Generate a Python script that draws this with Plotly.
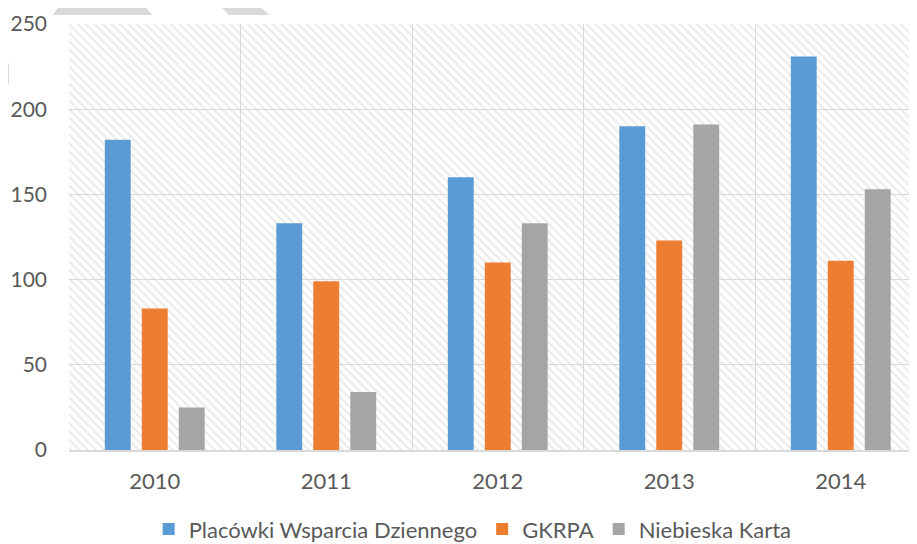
import plotly.graph_objects as go

# data
years = ["2010", "2011", "2012", "2013", "2014"]
placowki = [182, 133, 160, 190, 231]
gkrpa = [83, 99, 110, 123, 111]
niebieska = [25, 34, 133, 191, 153]

series_names = ["Placówki Wsparcia Dziennego", "GKRPA", "Niebieska Karta"]
series_colors = ["#5B9BD5", "#ED7D31", "#A5A5A5"]
y_max = 250
y_ticks = [0, 50, 100, 150, 200, 250]

FONT = "Lato"
TXT = "#595959"
GRID = "#d9d9d9"

# the page body has an 8px margin, so the figure is drawn 8px in from the corner
OFF = 8
W, H = 917 - OFF, 544 - OFF
L, R, T, B = 69 - OFF, 0, 24 - OFF, 94


def px(x, y):
    # screen pixel -> paper coords
    x, y = x - OFF, y - OFF
    return (x - L) / (W - L - R), (H - B - y) / (H - T - B)


def path(points):
    out = []
    for cmd, pts in points:
        coords = " ".join("%.4f,%.4f" % px(*p) for p in pts)
        out.append(cmd + coords)
    return " ".join(out) + " Z"


fig = go.Figure()

# hatched plot background (base axes, drawn under the data bars)
fig.add_trace(go.Bar(
    x=[0.5], y=[y_max], width=[1],
    marker=dict(color="rgba(0,0,0,0)", line=dict(width=0),
                pattern=dict(shape="\\", size=6, solidity=0.35,
                             fgcolor="#d6d6d6", bgcolor="rgba(0,0,0,0)")),
    showlegend=False, hoverinfo="skip", xaxis="x", yaxis="y",
))

for name, vals, color in zip(series_names, [placowki, gkrpa, niebieska], series_colors):
    fig.add_trace(go.Bar(
        x=years, y=vals, name=name,
        marker=dict(color=color, line=dict(width=0)),
        xaxis="x2", yaxis="y2",
    ))

# watermark fragments along the top edge
wm = [
    [("M", [(53, 15)]), ("Q", [(62, -2), (88, -3)]), ("L", [(118, -3)]), ("Q", [(142, 0), (152, 15)])],
    [("M", [(213, -1)]), ("L", [(250, -1)]), ("L", [(270, 15)]), ("L", [(229, 15)])],
    [("M", [(9, 63)]), ("L", [(9, 85)]), ("Q", [(0, 84), (0, 74)]), ("Q", [(3, 67), (9, 63)])],
]
for p in wm:
    fig.add_shape(type="path", path=path(p), xref="paper", yref="paper",
                  fillcolor="#d9d9d9", line=dict(width=0), layer="above")

n_vis = (W - L - R) / 171.5

fig.update_layout(
    width=W, height=H,
    margin=dict(l=L, r=R, t=T, b=B, pad=0, autoexpand=False),
    paper_bgcolor="white", plot_bgcolor="white",
    font=dict(family=FONT, size=21, color=TXT),
    barmode="group", bargap=0.353, bargroupgap=0.3,
    xaxis=dict(range=[0, 1], visible=False, fixedrange=True),
    yaxis=dict(range=[0, y_max], tickvals=y_ticks, showgrid=True, gridcolor=GRID,
               gridwidth=1.3, zeroline=False, showline=False, ticks="",
               ticklabelstandoff=21, automargin=False,
               tickfont=dict(family=FONT, size=21, color=TXT)),
    xaxis2=dict(overlaying="x", type="category", range=[-0.5, -0.5 + n_vis],
                tickson="boundaries", showgrid=True, gridcolor=GRID, gridwidth=1.3,
                showline=True, linecolor=GRID, linewidth=1.5, ticks="",
                ticklabelstandoff=11, automargin=False,
                tickfont=dict(family=FONT, size=22, color=TXT)),
    yaxis2=dict(overlaying="y", range=[0, y_max], visible=False),
    legend=dict(orientation="h", x=0.476, xanchor="center", y=-0.186, yanchor="middle",
                font=dict(family=FONT, size=22, color=TXT), bgcolor="rgba(0,0,0,0)"),
)

fig.write_html("out.html")
